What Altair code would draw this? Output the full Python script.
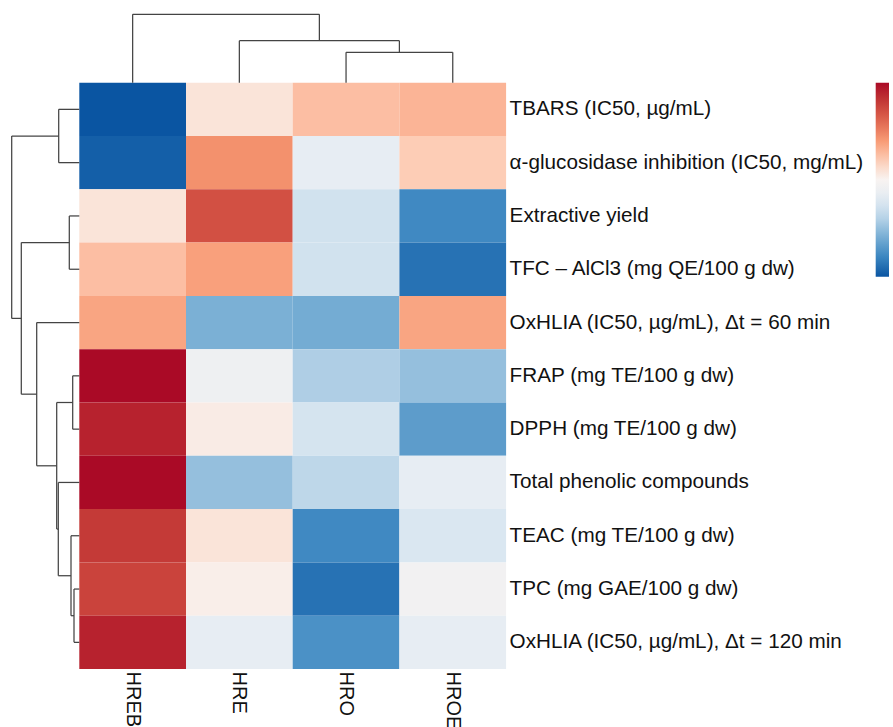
import altair as alt
import pandas as pd

# ---------------- data ----------------
row_labels = [
    "TBARS (IC50, µg/mL)",
    "α-glucosidase inhibition (IC50, mg/mL)",
    "Extractive yield",
    "TFC – AlCl3 (mg QE/100 g dw)",
    "OxHLIA (IC50, µg/mL), Δt = 60 min",
    "FRAP (mg TE/100 g dw)",
    "DPPH (mg TE/100 g dw)",
    "Total phenolic compounds",
    "TEAC (mg TE/100 g dw)",
    "TPC (mg GAE/100 g dw)",
    "OxHLIA (IC50, µg/mL), Δt = 120 min",
]
col_labels = ["HREB", "HRE", "HRO", "HROE"]

# row-scaled values (z-scores), one list per column, in row order
HREB = [-1.50, -1.44, 0.12, 0.39, 0.54, 1.50, 1.35, 1.50, 1.20, 1.14, 1.35]
HRE = [0.12, 0.66, 1.05, 0.57, -0.87, -0.15, 0.06, -0.75, 0.12, 0.04, -0.24]
HRO = [0.39, -0.24, -0.42, -0.42, -0.90, -0.63, -0.39, -0.54, -1.17, -1.32, -1.11]
HROE = [0.45, 0.30, -1.17, -1.32, 0.54, -0.75, -1.02, -0.24, -0.36, -0.09, -0.24]

# row dendrogram (leaves 0..10 in display order, new clusters 11..)
row_merge_a = [9, 5, 8, 2, 0, 7, 12, 4, 14, 15]
row_merge_b = [10, 6, 11, 3, 1, 13, 16, 17, 18, 19]
row_merge_h = [0.53, 0.66, 0.83, 1.00, 2.06, 2.10, 2.26, 4.26, 5.80, 6.76]

# column dendrogram (leaves 0..3 in display order, new clusters 4..)
col_merge_a = [2, 1, 0]
col_merge_b = [3, 4, 5]
col_merge_h = [3.04, 4.20, 6.84]

# colour bar stops (low -> high)
color_stops = [-1.5, -1.2, -0.9, -0.6, -0.3, 0.0, 0.3, 0.6, 0.9, 1.2, 1.5]
color_range = ["#0a55a2", "#3a85c0", "#74acd3", "#b5d2e7", "#e3ecf3", "#f8f3f1",
               "#fdcdb6", "#f89b75", "#e0674f", "#c43a37", "#aa0a26"]

# ---------------- layout ----------------
W, H = 893, 727
CELL_W, CELL_H = 106.7, 53.3
LEFT, TOP = 79.3, 82.7
ROW_TREE_PX = 67.6
COL_TREE_PX = 68.4
FONT = "Liberation Sans"
FS_ROW = 20.7
FS_COL = 20
LINE = "#444444"

n_rows, n_cols = len(row_labels), len(col_labels)
xs = alt.Scale(domain=[-LEFT / CELL_W, (W - LEFT) / CELL_W], nice=False, zero=False)
ys = alt.Scale(domain=[-TOP / CELL_H, (H - TOP) / CELL_H], nice=False, zero=False, reverse=True)


def dendro_segments(a_list, b_list, h_list, n_leaves):
    pos = {i: i + 0.5 for i in range(n_leaves)}
    hgt = {i: 0.0 for i in range(n_leaves)}
    segs = []
    for k, (a, b, h) in enumerate(zip(a_list, b_list, h_list)):
        segs.append((pos[a], hgt[a], pos[a], h))
        segs.append((pos[b], hgt[b], pos[b], h))
        segs.append((pos[a], h, pos[b], h))
        new = n_leaves + k
        pos[new] = (pos[a] + pos[b]) / 2
        hgt[new] = h
    return segs


# heatmap table
cols_vals = [HREB, HRE, HRO, HROE]
heat_rows = []
for j, vals in enumerate(cols_vals):
    for i, v in enumerate(vals):
        heat_rows.append({"c0": j, "c1": j + 1, "r0": i, "r1": i + 1, "value": v,
                          "feature": row_labels[i], "sample": col_labels[j]})
heat_df = pd.DataFrame(heat_rows)

# row tree (extends to the left)
rscale = (ROW_TREE_PX / CELL_W) / max(row_merge_h)
row_segs = dendro_segments(row_merge_a, row_merge_b, row_merge_h, n_rows)
row_tree_df = pd.DataFrame([{"x": -h1 * rscale, "x2": -h2 * rscale, "y": p1, "y2": p2}
                            for (p1, h1, p2, h2) in row_segs])

# column tree (extends upward)
cscale = (COL_TREE_PX / CELL_H) / max(col_merge_h)
col_segs = dendro_segments(col_merge_a, col_merge_b, col_merge_h, n_cols)
col_tree_df = pd.DataFrame([{"x": p1, "x2": p2, "y": -h1 * cscale, "y2": -h2 * cscale}
                            for (p1, h1, p2, h2) in col_segs])

row_lab_df = pd.DataFrame({"label": row_labels, "x": [n_cols] * n_rows,
                           "y": [i + 0.5 for i in range(n_rows)]})
col_lab_df = pd.DataFrame({"label": col_labels, "x": [j + 0.5 for j in range(n_cols)],
                           "y": [n_rows] * n_cols})

color_scale = alt.Scale(domain=color_stops, range=color_range, interpolate="rgb")

heat = alt.Chart(heat_df).mark_rect().encode(
    x=alt.X("c0:Q", scale=xs, axis=None),
    x2="c1:Q",
    y=alt.Y("r0:Q", scale=ys, axis=None),
    y2="r1:Q",
    color=alt.Color("value:Q", scale=color_scale,
                    legend=alt.Legend(orient="none", legendX=875.7, legendY=82.7,
                                      direction="vertical", gradientLength=194,
                                      gradientThickness=13.3, labelExpr="''", title=None,
                                      padding=0, offset=0, gradientStrokeWidth=0)),
)

row_tree = alt.Chart(row_tree_df).mark_rule(color=LINE, strokeWidth=1.25).encode(
    x=alt.X("x:Q", scale=xs, axis=None), x2="x2:Q",
    y=alt.Y("y:Q", scale=ys, axis=None), y2="y2:Q",
)
col_tree = alt.Chart(col_tree_df).mark_rule(color=LINE, strokeWidth=1.25).encode(
    x=alt.X("x:Q", scale=xs, axis=None), x2="x2:Q",
    y=alt.Y("y:Q", scale=ys, axis=None), y2="y2:Q",
)

row_text = alt.Chart(row_lab_df).mark_text(
    align="left", baseline="middle", dx=3.5, font=FONT, fontSize=FS_ROW, color="#111111"
).encode(
    x=alt.X("x:Q", scale=xs, axis=None),
    y=alt.Y("y:Q", scale=ys, axis=None),
    text="label:N",
)
col_text = alt.Chart(col_lab_df).mark_text(
    align="left", baseline="middle", angle=90, dx=2.5, font=FONT, fontSize=FS_COL, color="#111111"
).encode(
    x=alt.X("x:Q", scale=xs, axis=None),
    y=alt.Y("y:Q", scale=ys, axis=None),
    text="label:N",
)

chart = alt.layer(heat, row_tree, col_tree, row_text, col_text).properties(
    width=W, height=H, padding=0,
    autosize=alt.AutoSizeParams(type="none"),
    background="white",
).configure_view(stroke=None)

chart.save("out.html", embed_options={"renderer": "svg", "actions": False})
